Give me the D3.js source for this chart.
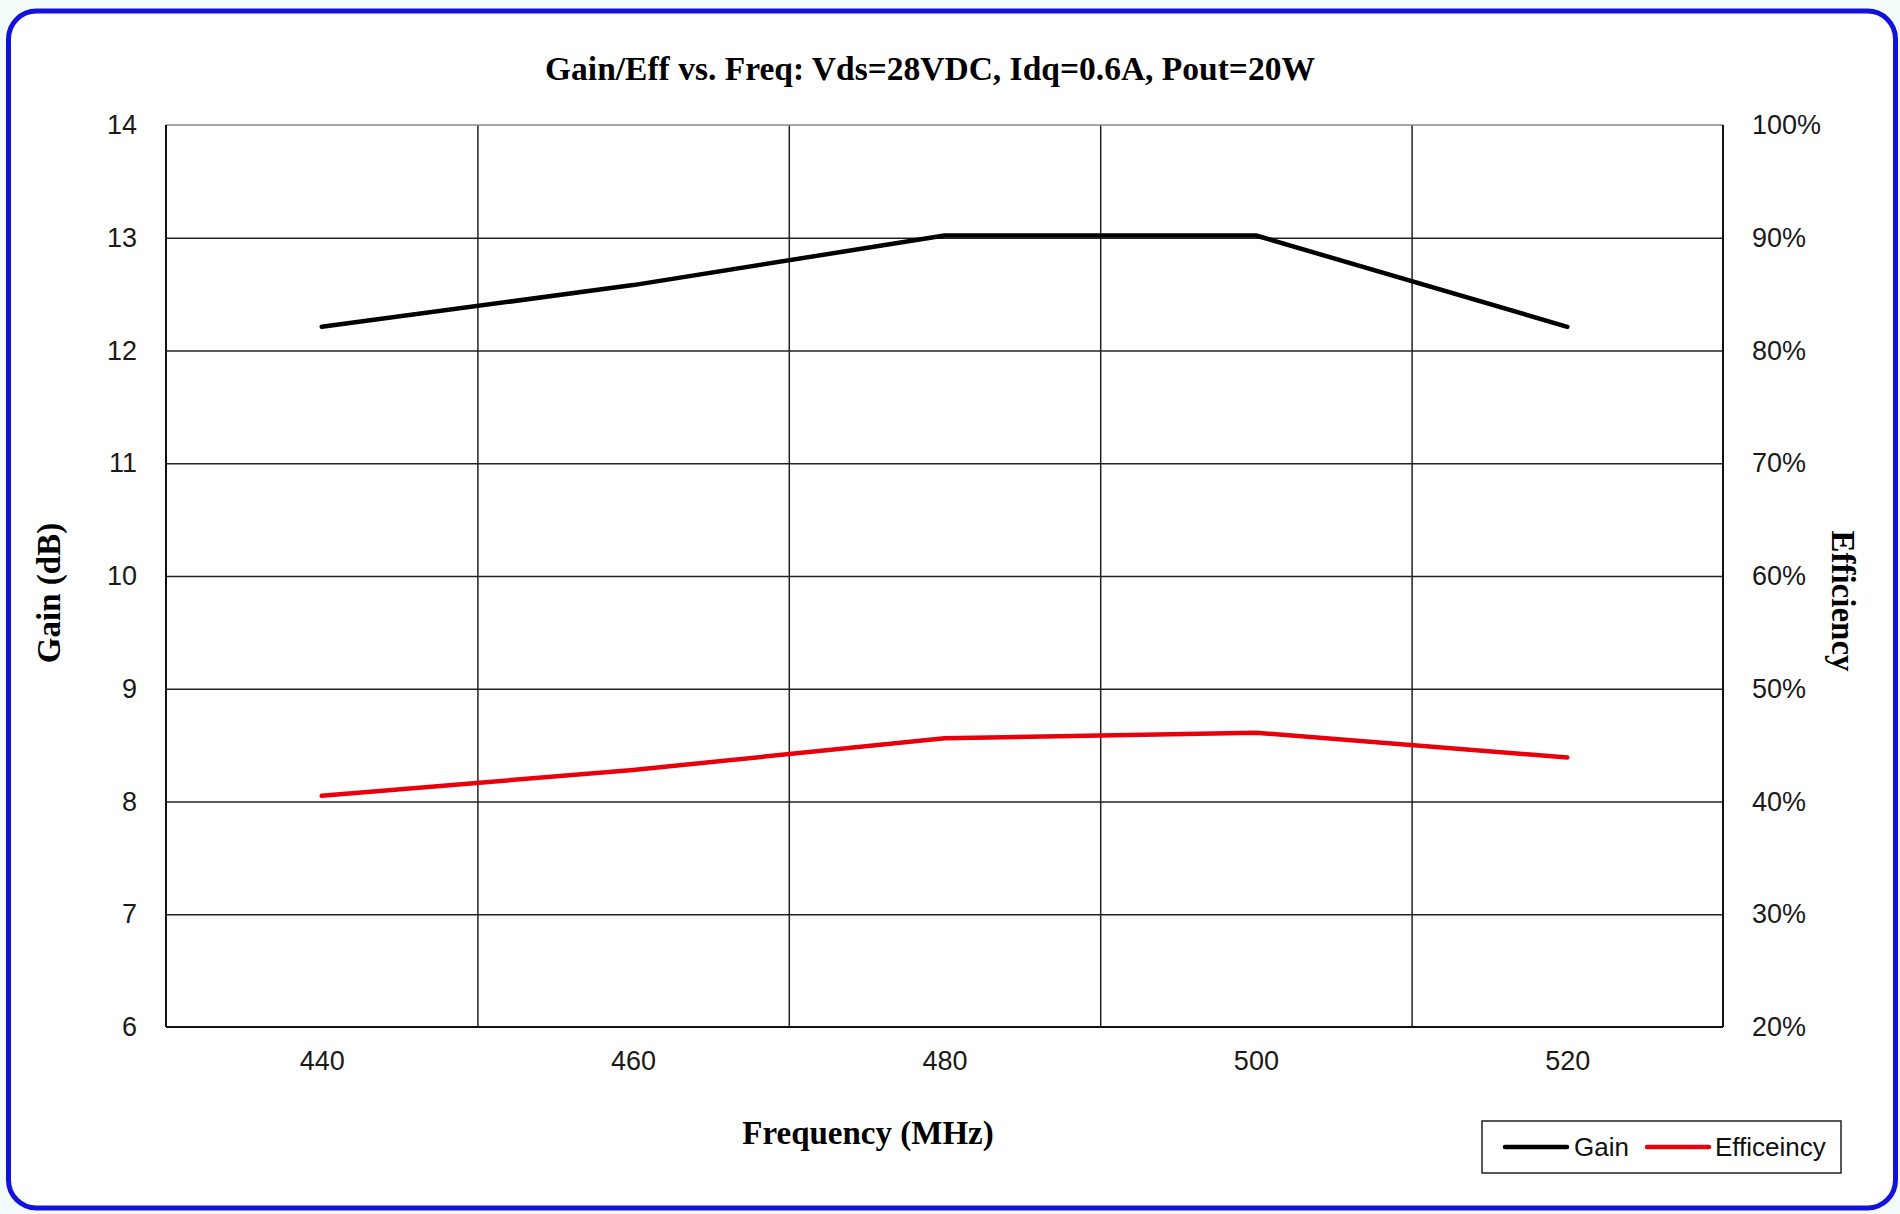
<!DOCTYPE html>
<html>
<head>
<meta charset="utf-8">
<script src="https://cdn.jsdelivr.net/npm/d3@7"></script>
<style>
  body { margin: 0; background: #f3fcfb; }
  .tick text { font-family: "Liberation Sans Narrow", "Arial Narrow", "Liberation Sans", sans-serif; font-size: 27px; fill: #1a1a1a; }
  .grid line { stroke: #222; stroke-width: 1.5; }
  .grid path { display: none; }
  .serif { font-family: "Liberation Serif", "Times New Roman", serif; font-weight: bold; font-size: 33px; fill: #000; }
</style>
</head>
<body>
<div id="chart-area"></div>
<script>

// Data
let freq = [440, 460, 480, 500, 520];
let gain = [12.21, 12.58, 13.02, 13.02, 12.21];
let eff = [40.5, 42.8, 45.6, 46.1, 43.9];

let xTicks = [440, 460, 480, 500, 520];
let gainTicks = [6, 7, 8, 9, 10, 11, 12, 13, 14];
let effTicks = [20, 30, 40, 50, 60, 70, 80, 90, 100];
let gridX = [450, 470, 490, 510];

// SVG drawing area
let W = 1900, H = 1214;
let margin = {top: 125, right: 177, bottom: 187, left: 166};
let width = W - margin.left - margin.right,
    height = H - margin.top - margin.bottom;

let root = d3.select("#chart-area").append("svg")
    .attr("width", W)
    .attr("height", H);

// blue rounded frame
root.append("rect")
    .attr("x", 8.5).attr("y", 11)
    .attr("width", 1887).attr("height", 1197)
    .attr("rx", 28).attr("ry", 28)
    .attr("fill", "#fff")
    .attr("stroke", "#1212dc")
    .attr("stroke-width", 5);

let svg = root.append("g")
    .attr("transform", "translate(" + margin.left + "," + margin.top + ")");

// Scales
let x = d3.scaleLinear().domain([430, 530]).range([0, width]);
let y = d3.scaleLinear().domain([6, 14]).range([height, 0]);
let y2 = d3.scaleLinear().domain([20, 100]).range([height, 0]);

// Gridlines
svg.append("g")
    .attr("class", "grid")
    .call(d3.axisLeft(y).tickValues(gainTicks.slice(1, -1)).tickSize(-width).tickFormat(""));
svg.append("g")
    .attr("class", "grid")
    .attr("transform", "translate(0," + height + ")")
    .call(d3.axisBottom(x).tickValues(gridX).tickSize(height).tickFormat(""))
    .selectAll("line").attr("y2", -height);

// plot frame
svg.append("line").attr("x1", 0).attr("x2", width).attr("y1", 0).attr("y2", 0)
    .attr("stroke", "#888").attr("stroke-width", 1.5);
svg.append("line").attr("x1", 0).attr("x2", 0).attr("y1", 0).attr("y2", height)
    .attr("stroke", "#111").attr("stroke-width", 2);
svg.append("line").attr("x1", width).attr("x2", width).attr("y1", 0).attr("y2", height)
    .attr("stroke", "#111").attr("stroke-width", 2);
svg.append("line").attr("x1", 0).attr("x2", width).attr("y1", height).attr("y2", height)
    .attr("stroke", "#111").attr("stroke-width", 2);

// Axes (labels only)
let xAxis = d3.axisBottom(x).tickValues(xTicks).tickSize(0).tickPadding(24);
let yAxis = d3.axisLeft(y).tickValues(gainTicks).tickSize(0).tickPadding(29);
let y2Axis = d3.axisRight(y2).tickValues(effTicks).tickSize(0).tickPadding(29)
    .tickFormat(d => d + "%");

svg.append("g").attr("transform", "translate(0," + height + ")").call(xAxis)
    .select(".domain").remove();
svg.append("g").call(yAxis).select(".domain").remove();
svg.append("g").attr("transform", "translate(" + width + ",0)").call(y2Axis)
    .select(".domain").remove();

// Lines
let gainLine = d3.line().x((d, i) => x(freq[i])).y(d => y(d));
let effLine = d3.line().x((d, i) => x(freq[i])).y(d => y2(d));

svg.append("path").datum(gain)
    .attr("d", gainLine)
    .attr("fill", "none").attr("stroke", "#000").attr("stroke-width", 4.5)
    .attr("stroke-linejoin", "round").attr("stroke-linecap", "round");
svg.append("path").datum(eff)
    .attr("d", effLine)
    .attr("fill", "none").attr("stroke", "#e8000a").attr("stroke-width", 4.5)
    .attr("stroke-linejoin", "round").attr("stroke-linecap", "round");

// Titles
root.append("text").attr("class", "serif")
    .attr("x", 930).attr("y", 80).attr("text-anchor", "middle")
    .style("font-size", "33.5px")
    .text("Gain/Eff vs. Freq:  Vds=28VDC, Idq=0.6A, Pout=20W");
root.append("text").attr("class", "serif")
    .attr("x", 868).attr("y", 1144).attr("text-anchor", "middle")
    .text("Frequency (MHz)");
root.append("text").attr("class", "serif")
    .attr("transform", "translate(60,593) rotate(-90)")
    .attr("text-anchor", "middle")
    .text("Gain (dB)");
root.append("text").attr("class", "serif")
    .attr("transform", "translate(1832,601) rotate(90)")
    .attr("text-anchor", "middle")
    .text("Efficiency");

// Legend
let legend = root.append("g").attr("transform", "translate(1482,1121)");
legend.append("rect")
    .attr("width", 359).attr("height", 52)
    .attr("fill", "#fff").attr("stroke", "#222").attr("stroke-width", 1.5);
let items = [{name: "Gain", color: "#000", x0: 23, tx: 92},
             {name: "Efficeincy", color: "#e8000a", x0: 165, tx: 233}];
items.forEach(it => {
  legend.append("line")
      .attr("x1", it.x0).attr("x2", it.x0 + 62).attr("y1", 26).attr("y2", 26)
      .attr("stroke", it.color).attr("stroke-width", 4.5).attr("stroke-linecap", "round");
  legend.append("text")
      .attr("x", it.tx).attr("y", 35)
      .style("font-family", "'Liberation Sans', Arial, sans-serif")
      .style("font-size", "26px").attr("fill", "#111")
      .text(it.name);
});

</script>
</body>
</html>
